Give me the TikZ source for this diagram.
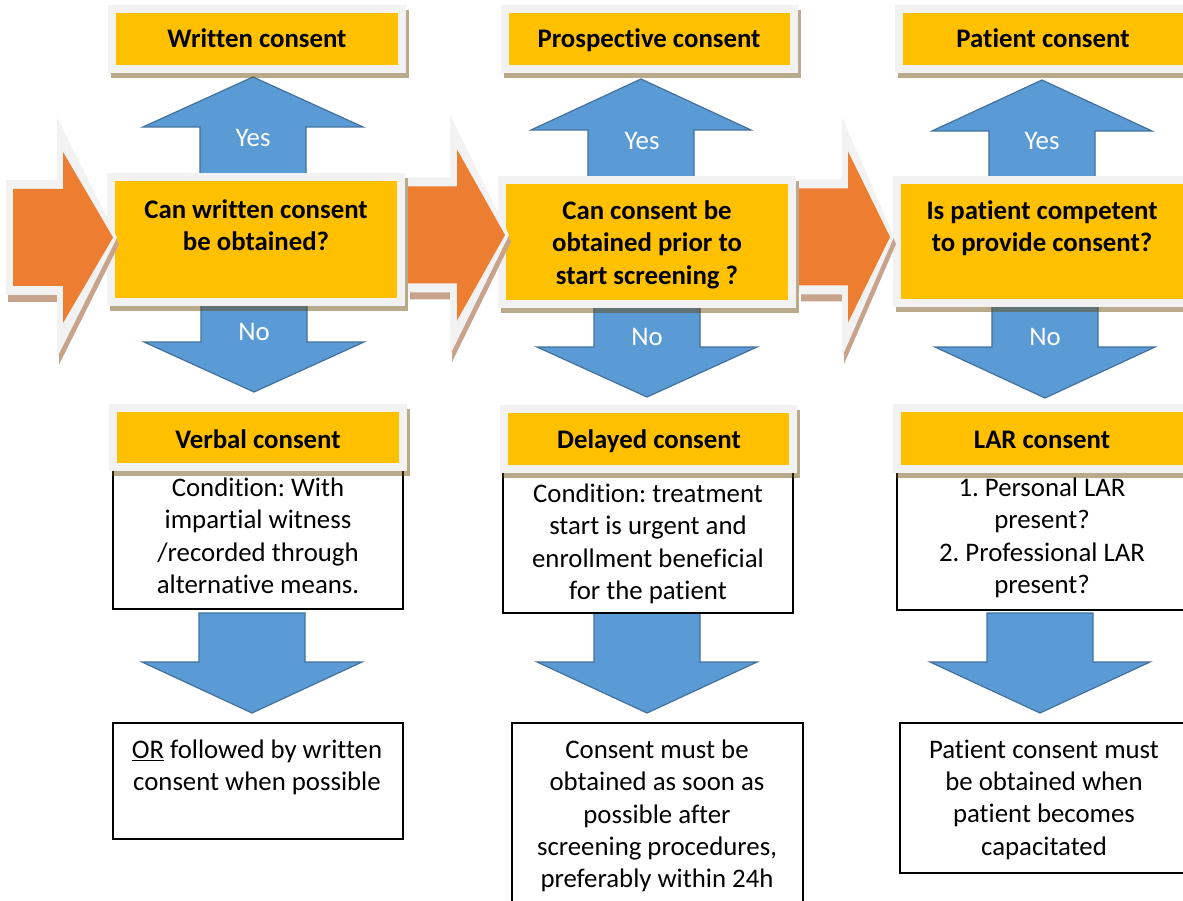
\documentclass[tikz,border=0pt]{standalone}
\usepackage{fontspec}
\setmainfont{Carlito}[Ligatures=NoCommon]
\frenchspacing
\definecolor{gold}{RGB}{255,192,0}
\definecolor{orangeA}{RGB}{237,125,49}
\definecolor{blueA}{RGB}{91,155,213}
\definecolor{blueB}{RGB}{65,113,156}
\definecolor{framefill}{RGB}{242,242,242}
\definecolor{shadowc}{RGB}{100,67,0}
\definecolor{oshadow}{RGB}{200,163,140}
\tikzset{
  boxshadow/.style={fill=shadowc, fill opacity=0.45},
  bluearrow/.style={fill=blueA, draw=blueB, line width=1.2pt, line join=miter},
  txtbox/.style={draw=black, line width=1.3pt, fill=white},
  bt/.style={font=\bfseries\fontsize{26.8}{32.3}\selectfont\frenchspacing, align=center, inner sep=0pt, anchor=north, execute at begin node=\strut},
  rt/.style={font=\fontsize{26.8}{32.4}\selectfont\frenchspacing, align=center, inner sep=0pt, anchor=north, execute at begin node=\strut},
  hd/.style={font=\bfseries\fontsize{26.8}{32.3}\selectfont, inner sep=0pt, anchor=base},
  yn/.style={font=\fontsize{26.8}{32.3}\selectfont, text=white, inner sep=0pt, anchor=base},
}
% cx, tip, head base, shaft end
\newcommand\bluearr[4]{%
  \draw[bluearrow] ({#1-53},#4) -- ({#1-53},#3) -- ({#1-110},#3) -- (#1,#2) -- ({#1+110},#3) -- ({#1+53},#3) -- ({#1+53},#4) -- cycle;}
% framed yellow box: x1,y1,x2,y2 (outer)
\newcommand\ybx[4]{%
  \fill[boxshadow] ({#1+3},{#2+5}) rectangle ({#3+3},{#4+5});
  \fill[framefill] (#1,#2) rectangle (#3,#4);
  \fill[gold] ({#1+8},{#2+8}) rectangle ({#3-8},{#4-8});}
% orange arrow: inner left, inner head base, inner tip, cy, outer left, outer head base, outer tip
\newcommand\orpath[7]{(#5,{#4-57.5}) -- (#6,{#4-57.5}) -- (#6,{#4-120}) -- (#7,#4) -- (#6,{#4+120}) -- (#6,{#4+57.5}) -- (#5,{#4+57.5}) -- cycle}
\newcommand\orarr[7]{%
  \fill[oshadow, shift={(2,7)}] \orpath{#1}{#2}{#3}{#4}{#5}{#6}{#7};
  \fill[framefill] \orpath{#1}{#2}{#3}{#4}{#5}{#6}{#7};
  \fill[orangeA] (#1,{#4-48.5}) -- (#2,{#4-48.5}) -- (#2,{#4-85.5}) -- (#3,#4) -- (#2,{#4+85.5}) -- (#2,{#4+48.5}) -- (#1,{#4+48.5}) -- cycle;}
\begin{document}
\begin{tikzpicture}[x=1pt,y=-1pt]
\clip (0,0) rectangle (1183,901);
\fill[white] (0,0) rectangle (1183,901);
% blue arrows
\bluearr{253}{77}{127}{185}
\bluearr{641}{79}{130}{185}
\bluearr{1042}{80}{131}{185}
\bluearr{254}{392}{342}{300}
\bluearr{647}{397}{347}{300}
\bluearr{1045}{398}{347}{300}
\bluearr{252}{713}{662}{613}
\bluearr{647}{713}{662}{613}
\bluearr{1040}{713}{662}{613}
% top header boxes
\ybx{108}{5}{406}{73}
\ybx{501}{5}{798}{73}
\ybx{895}{5}{1195}{73}
% question boxes
\ybx{107}{173}{405}{306}
\ybx{498}{176}{796}{308}
\ybx{893}{176}{1195}{307}
% orange arrows
\orarr{13}{63}{113}{237.5}{6}{57}{117}
\orarr{408}{457}{505}{235}{408}{450}{509}
\orarr{799}{848}{890}{237}{799}{842}{894}
% condition boxes
\draw[txtbox] (113,465) rectangle (403,609);
\draw[txtbox] (503,465) rectangle (793,613);
\draw[txtbox] (897,465) rectangle (1195,610);
% bottom header boxes
\ybx{109}{404}{407}{471}
\ybx{500}{405}{797}{473}
\ybx{893}{404}{1195}{473}
% result boxes
\draw[txtbox] (113,723) rectangle (403,839);
\draw[txtbox] (512,723) rectangle (803,910);
\draw[txtbox] (900,723) rectangle (1195,873);
% texts
\node[hd] (h1) at (257,48) {Written consent};
\node[hd] (h2) at (649,48) {Prospective consent};
\node[hd] (h3) at (1043,48) {Patient consent};
\node[yn] (y1) at (253,147) {Yes};
\node[yn] (y2) at (642,150) {Yes};
\node[yn] (y3) at (1042,150) {Yes};
\node[yn] (n1) at (254,340) {No};
\node[yn] (n2) at (647,345) {No};
\node[yn] (n3) at (1045,345) {No};
\node[bt] (q1) at (256,199.4) {Can written consent\\be obtained?};
\node[bt] (q2) at (647,200.4) {Can consent be\\obtained prior to\\start screening ?};
\node[bt] (q3) at (1042,200.4) {Is patient competent\\to provide consent?};
\node[hd] (v1) at (258,448) {Verbal consent};
\node[hd] (v2) at (649,448) {Delayed consent};
\node[hd] (v3) at (1042,448) {LAR consent};
\node[rt] (c1) at (258,477.4) {Condition: With\\impartial witness\\/recorded through\\alternative means.};
\node[rt] (c2) at (648,483.4) {Condition: treatment\\start is urgent and\\enrollment beneficial\\for the patient};
\node[rt] (c3) at (1042,477.4) {1. Personal LAR\\present?\\2. Professional LAR\\present?};
\node[rt] (r1) at (257,739.4) {\underline{OR} followed by written\\consent when possible};
\node[rt] (r2) at (657,739.4) {Consent must be\\obtained as soon as\\possible after\\screening procedures,\\preferably within 24h};
\node[rt] (r3) at (1044,739.4) {Patient consent must\\be obtained when\\patient becomes\\capacitated};
\end{tikzpicture}
\end{document}
